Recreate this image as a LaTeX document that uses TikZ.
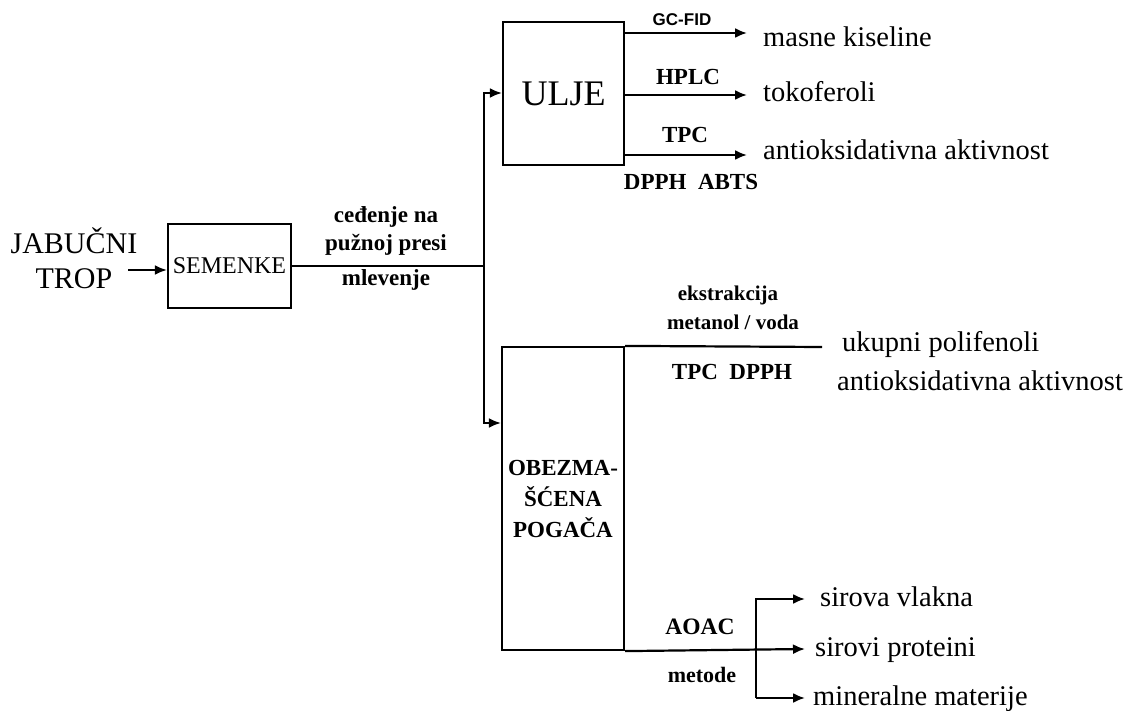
\documentclass[tikz,border=0pt]{standalone}
\usepackage{fontspec}
\setmainfont{Liberation Serif}
\newfontfamily\arialfont{Liberation Sans}
\usetikzlibrary{arrows.meta}
\tikzset{
  line/.style={line width=2.2pt},
  arr/.style={line width=2.2pt,-{Latex[length=12pt,width=10pt]}},
  boxnode/.style={draw,line width=2.2pt,inner sep=0pt},
  big/.style={font=\fontsize{28.5}{30}\selectfont,inner sep=0pt},
  lab/.style={font=\fontsize{23}{28}\selectfont\bfseries,inner sep=0pt},
}
\begin{document}
\begin{tikzpicture}[x=1pt,y=-1pt]
\useasboundingbox (0,0) rectangle (1127,711);

% left part
\node[inner sep=0pt,align=center,font=\fontsize{30}{35}\selectfont] (jt) at (74,258) {JABUČNI\\TROP};
\node[boxnode,minimum width=123pt,minimum height=84pt,font=\fontsize{24}{26}\selectfont] (sem) at (229.5,266) {SEMENKE};
\coordinate (jte) at (128,270);
\draw[arr] (jte) -- (sem.west |- jte);

\coordinate (j) at (484,266);
\coordinate (jt2) at (484,93);
\coordinate (jb) at (484,423);
\draw[line] (sem.east) -- (j);
\node[lab] (ced1) at (386,217) {ceđenje na};
\node[lab] (ced2) at (386,245) {pužnoj presi};
\node[lab] (mlev) at (386,280) {mlevenje};

% boxes
\node[boxnode,minimum width=121pt,minimum height=143pt,font=\fontsize{36}{38}\selectfont] (ulje) at (563.5,93.5) {ULJE};
\node[boxnode,minimum width=122pt,minimum height=303pt,align=center,font=\fontsize{23}{31}\selectfont\bfseries] (pog) at (563,498.5) {OBEZMA-\\ŠĆENA\\POGAČA};

\draw[line,line cap=rect] (jt2) -- (jb);
\draw[arr] (jt2) -- (jt2 -| ulje.west);
\draw[arr] (jb) -- (jb -| pog.west);

% ULJE outputs
\coordinate (u1) at (747,33);
\coordinate (u2) at (747,95);
\coordinate (u3) at (747,155);
\draw[arr] (ulje.east |- u1) -- (u1);
\draw[arr] (ulje.east |- u2) -- (u2);
\draw[arr] (ulje.east |- u3) -- (u3);
\node[inner sep=0pt,font=\arialfont\fontsize{17}{19}\selectfont\bfseries] (gc) at (682,20) {GC-FID};
\node[lab] (hplc) at (688,77) {HPLC};
\node[lab] (tpc1) at (685,135) {TPC};
\node[lab] (dpab) at (691,182) {DPPH\ \ ABTS};
\node[big,anchor=base west] (mk) at (763,47) {masne kiseline};
\node[big,anchor=base west] (tok) at (763,102) {tokoferoli};
\node[big,anchor=base west] (aa1) at (763,160) {antioksidativna aktivnost};

% extraction
\coordinate (e1) at (822,347);
\draw[line] (pog.north east) -- (e1);
\node[lab,font=\fontsize{21}{24}\selectfont\bfseries] (ekst) at (728,295) {ekstrakcija};
\node[lab,font=\fontsize{21}{24}\selectfont\bfseries] (mv) at (733,322) {metanol / voda};
\node[lab] (tpcd) at (732,372) {TPC\ \ DPPH};
\node[big,anchor=base west] (up) at (842,352) {ukupni polifenoli};
\node[big,anchor=base west] (aa2) at (837,390) {antioksidativna aktivnost};

% bottom
\coordinate (b1) at (805,599);
\coordinate (b2) at (805,649);
\coordinate (b3) at (805,698);
\coordinate (v1) at (756,599);
\coordinate (v3) at (756,698);
\draw[arr] (pog.south east) -- (b2);
\draw[arr] (v3) -- (v1) -- (b1);
\draw[arr] (v3) -- (b3);
\node[lab,font=\fontsize{23.5}{26}\selectfont\bfseries] (aoac) at (700,627) {AOAC};
\node[lab,font=\fontsize{22}{24}\selectfont\bfseries] (met) at (702,675) {metode};
\node[big,anchor=base west] (sv) at (820,606) {sirova vlakna};
\node[big,anchor=base west] (sp) at (815,656) {sirovi proteini};
\node[big,anchor=base west] (mm) at (813,705) {mineralne materije};
\end{tikzpicture}
\end{document}
